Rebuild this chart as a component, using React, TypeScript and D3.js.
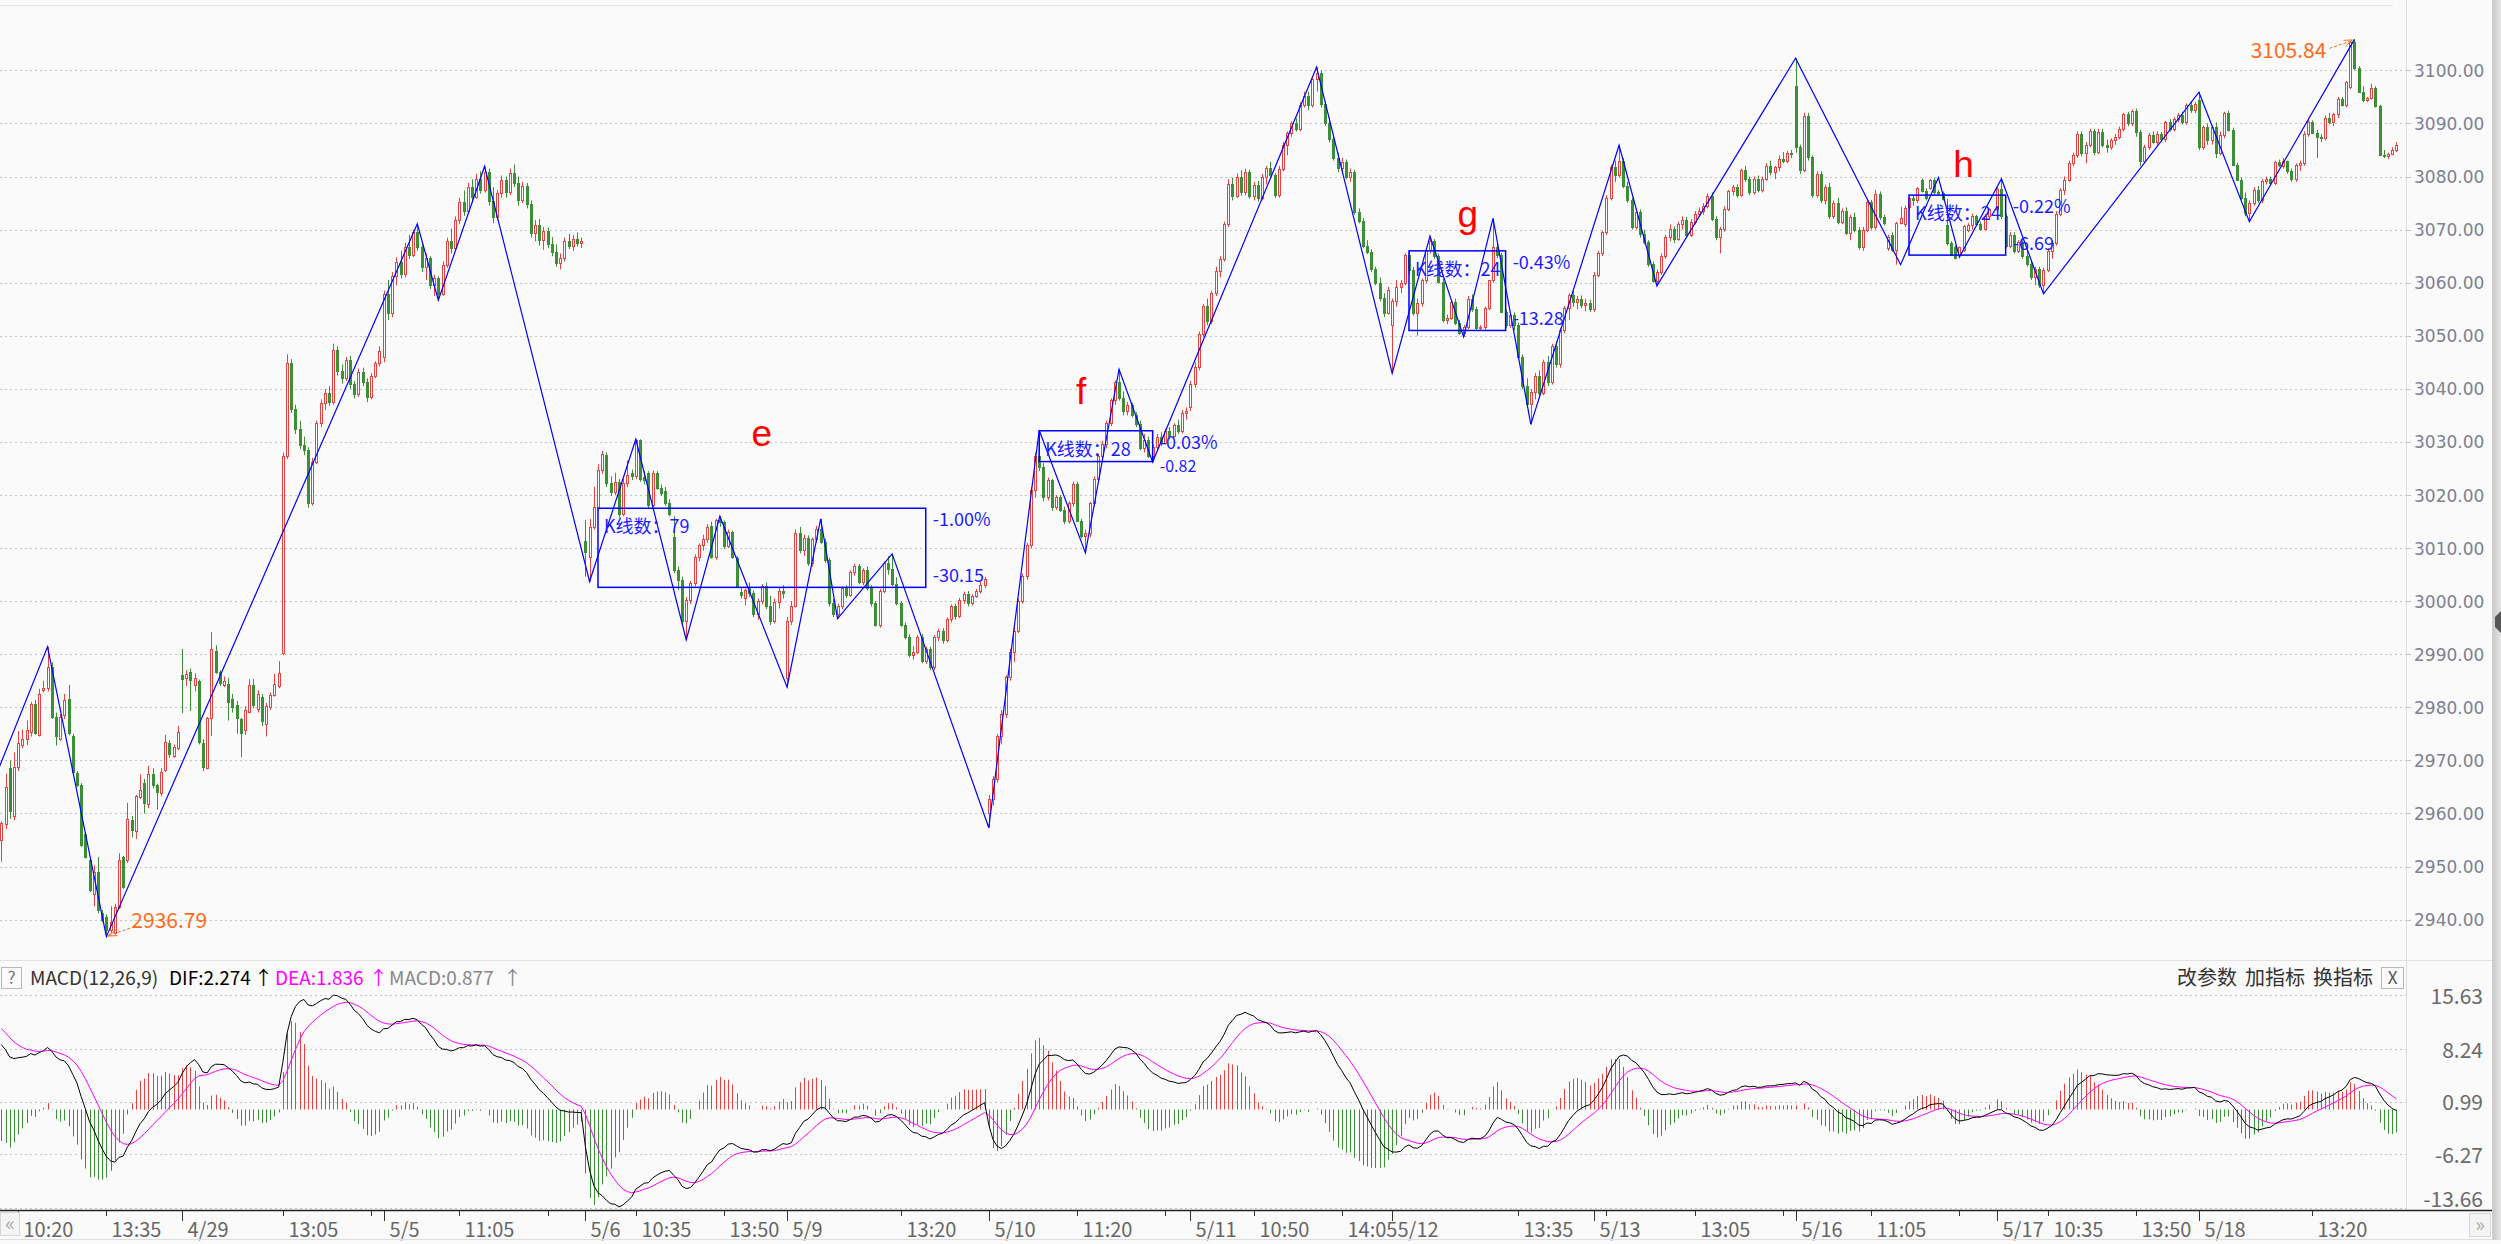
import React, { useMemo } from 'react';
import * as d3 from 'd3';

// ---------------- DATA ----------------
const dayLabels = ['4/28', '4/29', '5/5', '5/6', '5/9', '5/10', '5/11', '5/12', '5/13', '5/16', '5/17', '5/18'];
const BARS_PER_DAY = 48;
const FIRST_BAR = 5; // first visible 5-min bar of 4/28

// 5-minute bars, flat [open, high, low, close, ...] per day
const d0428 = [
  2955.0, 2958.5, 2950.9, 2958.2, 2958.1, 2967.5, 2957.0, 2965.0, 2968.5, 2970.0, 2959.0, 2960.5, 2959.5, 2971.5, 2958.7, 2968.8,
  2968.8, 2975.5, 2968.0, 2973.2, 2972.9, 2975.8, 2972.3, 2974.1, 2974.1, 2977.5, 2972.9, 2975.7, 2975.4, 2981.0, 2974.5, 2980.6,
  2980.6, 2981.4, 2974.8, 2975.1, 2974.8, 2983.5, 2974.5, 2982.6, 2983.2, 2985.0, 2982.8, 2983.7, 2983.6, 2991.4, 2983.0, 2987.6,
  2987.6, 2988.5, 2977.8, 2978.2, 2978.2, 2979.0, 2972.8, 2974.5, 2974.0, 2978.7, 2973.7, 2978.2, 2978.5, 2982.5, 2977.8, 2981.4,
  2981.6, 2984.2, 2974.7, 2975.1, 2974.6, 2975.0, 2967.5, 2967.9, 2967.7, 2968.0, 2965.0, 2965.3, 2965.3, 2965.7, 2953.7, 2954.0,
  2956.2, 2956.5, 2951.5, 2951.8, 2951.2, 2951.5, 2945.2, 2945.6, 2944.9, 2950.2, 2942.5, 2949.0, 2949.0, 2951.8, 2941.2, 2941.8,
  2941.2, 2941.8, 2939.5, 2939.9, 2940.5, 2941.0, 2936.79, 2938.0, 2938.0, 2942.5, 2937.5, 2939.6, 2937.4, 2943.0, 2937.2, 2942.4,
  2942.4, 2952.5, 2942.0, 2951.3, 2951.8, 2952.0, 2945.8, 2946.2, 2951.3, 2962.0, 2950.7, 2958.9, 2958.8, 2959.5, 2955.5, 2956.9,
  2956.6, 2963.5, 2955.2, 2963.3, 2963.1, 2967.4, 2962.7, 2964.5, 2965.7, 2966.5, 2960.0, 2961.9, 2961.8, 2969.0, 2961.0, 2967.5,
  2967.4, 2968.5, 2964.7, 2965.3, 2965.3, 2965.6, 2960.7, 2964.1, 2963.8, 2968.5, 2963.2, 2967.8, 2968.2, 2974.8, 2967.8, 2973.5,
  2973.3, 2973.8, 2970.5, 2971.2, 2970.8, 2973.0, 2970.5, 2972.6, 2972.3, 2976.5, 2971.9, 2975.4,
];
const d0429 = [
  2986.1, 2991.0, 2978.9, 2985.4, 2985.6, 2987.0, 2984.0, 2986.3, 2986.7, 2987.3, 2979.3, 2985.1, 2984.2, 2986.4, 2983.0, 2985.6,
  2984.9, 2985.2, 2973.0, 2973.5, 2973.3, 2974.0, 2968.0, 2968.8, 2968.5, 2978.2, 2968.3, 2977.9, 2977.9, 2994.2, 2974.6, 2990.9,
  2990.6, 2991.7, 2986.3, 2986.7, 2986.7, 2987.0, 2984.0, 2984.5, 2984.2, 2985.8, 2983.8, 2984.9, 2984.4, 2985.5, 2977.5, 2981.0,
  2981.5, 2982.5, 2979.0, 2980.0, 2980.4, 2981.2, 2975.0, 2977.9, 2977.8, 2978.0, 2970.6, 2975.1, 2975.7, 2980.2, 2974.8, 2979.5,
  2979.2, 2985.3, 2979.0, 2984.2, 2984.2, 2985.3, 2979.8, 2980.4, 2979.6, 2983.2, 2979.0, 2982.6, 2982.0, 2982.5, 2976.5, 2977.5,
  2976.8, 2980.8, 2974.5, 2980.2, 2980.0, 2982.8, 2979.5, 2982.3, 2982.3, 2986.3, 2982.0, 2984.4, 2984.0, 2988.7, 2983.6, 2986.4,
  2990.3, 3028.0, 2989.8, 3027.3, 3027.3, 3046.5, 3026.8, 3044.8, 3044.8, 3045.6, 3035.5, 3036.2, 3036.2, 3037.0, 3031.5, 3032.4,
  3032.4, 3034.0, 3028.6, 3029.5, 3029.5, 3031.0, 3027.5, 3028.5, 3028.5, 3029.0, 3017.6, 3018.4, 3018.4, 3027.0, 3018.0, 3026.2,
  3026.2, 3034.0, 3025.8, 3033.5, 3033.5, 3038.0, 3032.8, 3037.4, 3037.4, 3040.0, 3036.0, 3039.2, 3039.2, 3040.5, 3036.8, 3037.6,
  3037.6, 3048.5, 3037.0, 3047.3, 3047.3, 3048.0, 3042.5, 3043.4, 3043.4, 3044.6, 3041.0, 3042.1, 3042.1, 3046.0, 3041.5, 3045.4,
  3045.4, 3046.2, 3040.0, 3040.9, 3040.9, 3041.5, 3038.2, 3039.0, 3039.0, 3043.8, 3038.5, 3043.2, 3043.2, 3044.0, 3040.5, 3041.3,
  3041.3, 3042.0, 3037.5, 3038.4, 3038.4, 3043.0, 3038.0, 3042.5, 3042.5, 3045.2, 3042.0, 3044.8, 3044.8, 3048.0, 3044.2, 3047.1,
];
const d0505 = [
  3046.0, 3058.5, 3045.0, 3057.8, 3057.8, 3060.5, 3053.0, 3054.2, 3054.2, 3062.0, 3053.5, 3061.2, 3061.2, 3064.8, 3059.5, 3063.9,
  3063.9, 3066.0, 3060.8, 3061.7, 3061.7, 3067.5, 3061.0, 3066.8, 3066.8, 3069.0, 3064.5, 3065.3, 3065.3, 3070.0, 3064.8, 3069.5,
  3069.5, 3071.1, 3066.0, 3066.8, 3066.8, 3067.5, 3062.0, 3063.0, 3063.0, 3065.5, 3060.5, 3064.6, 3064.6, 3065.0, 3058.8, 3059.6,
  3059.6, 3061.5, 3057.5, 3060.8, 3060.8, 3061.2, 3056.7, 3057.9, 3057.9, 3064.0, 3057.5, 3063.4, 3063.4, 3068.5, 3062.8, 3067.9,
  3067.9, 3070.2, 3065.5, 3066.6, 3066.6, 3072.5, 3066.0, 3071.8, 3071.8, 3076.0, 3071.0, 3075.2, 3075.2, 3077.4, 3072.6, 3073.5,
  3073.5, 3078.8, 3073.0, 3078.1, 3078.1, 3079.5, 3075.0, 3076.2, 3076.2, 3080.5, 3075.8, 3079.6, 3079.6, 3081.0, 3076.8, 3077.4,
  3077.4, 3081.9, 3077.0, 3080.8, 3080.8, 3081.5, 3074.5, 3075.3, 3075.3, 3078.0, 3071.2, 3072.4, 3072.4, 3077.5, 3071.8, 3076.9,
  3076.9, 3080.2, 3076.0, 3079.4, 3079.4, 3080.0, 3076.0, 3077.1, 3077.1, 3081.5, 3076.5, 3080.6, 3080.6, 3082.3, 3078.0, 3078.8,
  3078.8, 3080.0, 3074.5, 3075.6, 3075.6, 3079.0, 3075.0, 3078.3, 3078.3, 3078.8, 3074.0, 3074.9, 3074.9, 3075.5, 3068.5, 3069.4,
  3069.4, 3071.8, 3067.8, 3070.9, 3070.9, 3072.0, 3067.0, 3068.1, 3068.1, 3070.5, 3066.2, 3069.8, 3069.8, 3070.4, 3066.5, 3067.3,
  3067.3, 3068.6, 3065.0, 3065.8, 3065.8, 3067.2, 3063.0, 3063.8, 3063.8, 3065.5, 3062.5, 3064.6, 3064.6, 3068.5, 3064.0, 3067.9,
  3067.9, 3069.2, 3066.3, 3066.9, 3066.9, 3069.0, 3066.0, 3068.3, 3068.3, 3069.5, 3066.8, 3067.4, 3067.4, 3068.5, 3066.5, 3067.8,
];
const d0506 = [
  3011.3, 3015.3, 3004.6, 3009.3, 3008.4, 3015.5, 3003.7, 3014.0, 3014.0, 3021.5, 3013.5, 3017.8, 3017.8, 3025.8, 3017.0, 3024.8,
  3024.7, 3028.3, 3024.0, 3027.7, 3027.5, 3028.0, 3021.5, 3022.2, 3022.2, 3023.5, 3019.8, 3020.6, 3020.6, 3024.2, 3020.0, 3022.5,
  3022.5, 3023.0, 3015.8, 3016.5, 3016.5, 3023.0, 3016.0, 3022.2, 3022.2, 3026.5, 3021.5, 3023.8, 3024.1, 3024.8, 3022.8, 3023.6,
  3023.5, 3030.55, 3023.0, 3030.4, 3030.4, 3030.5, 3022.5, 3023.1, 3023.4, 3024.5, 3022.0, 3022.8, 3024.1, 3024.5, 3017.5, 3018.1,
  3018.1, 3024.6, 3017.6, 3024.1, 3024.1, 3024.5, 3021.0, 3021.3, 3021.3, 3022.0, 3019.8, 3020.3, 3020.8, 3021.5, 3018.0, 3018.4,
  3018.4, 3019.2, 3016.0, 3016.5, 3012.0, 3016.0, 3005.3, 3005.9, 3005.9, 3006.5, 3002.1, 3004.0, 3004.0, 3004.6, 2995.5, 2996.3,
  2996.3, 3000.8, 2992.7, 3000.2, 3000.2, 3003.8, 2999.5, 3003.4, 3003.4, 3008.8, 3002.8, 3008.4, 3008.4, 3010.9, 3007.5, 3010.6,
  3010.6, 3012.5, 3009.5, 3011.8, 3011.8, 3014.5, 3011.0, 3014.0, 3014.2, 3015.0, 3008.0, 3008.4, 3008.4, 3015.5, 3007.8, 3015.3,
  3015.3, 3016.0, 3014.0, 3014.9, 3014.9, 3015.2, 3009.8, 3010.3, 3010.3, 3013.5, 3010.0, 3013.1, 3013.1, 3013.3, 3008.0, 3008.4,
  3008.1, 3008.5, 3002.5, 3002.7, 3001.8, 3002.5, 3000.5, 3001.2, 3000.5, 3002.4, 2999.2, 3002.1, 3002.7, 3003.5, 3000.8, 3001.5,
  3001.5, 3002.0, 2997.0, 2997.6, 2997.6, 3000.5, 2996.5, 3000.0, 3000.0, 3003.2, 2999.4, 3002.8, 3002.8, 3003.5, 2998.5, 2999.1,
  2999.1, 3001.0, 2995.5, 2996.3, 2996.3, 3000.5, 2995.8, 2999.8, 2999.8, 3002.5, 2998.6, 3001.9, 3001.9, 3003.0, 3000.5, 3001.6,
];
const d0509 = [
  2985.5, 2997.0, 2983.8, 2996.2, 2996.2, 3000.0, 2995.5, 2999.1, 2999.1, 3013.5, 2998.8, 3012.9, 3012.9, 3014.0, 3009.0, 3009.6,
  3009.6, 3012.5, 3008.5, 3011.9, 3011.9, 3012.4, 3006.6, 3007.1, 3007.1, 3012.0, 3006.5, 3011.7, 3011.7, 3014.2, 3011.0, 3013.5,
  3013.5, 3015.5, 3010.8, 3011.2, 3011.2, 3011.8, 3007.2, 3007.7, 3007.7, 3008.2, 2999.0, 2999.6, 2999.6, 3000.4, 2997.0, 2997.5,
  2997.5, 2999.5, 2996.7, 2999.1, 2999.1, 3002.8, 2998.5, 3002.5, 3002.5, 3003.0, 3000.6, 3001.2, 3001.2, 3005.8, 3000.8, 3005.4,
  3005.4, 3007.0, 3004.8, 3006.6, 3006.6, 3007.0, 3003.2, 3003.7, 3003.7, 3006.2, 3003.0, 3005.8, 3005.8, 3006.5, 3002.0, 3002.5,
  3002.5, 3003.0, 2999.0, 2999.6, 2999.6, 3000.0, 2995.2, 2995.6, 2995.6, 3002.3, 2995.0, 3001.9, 3001.9, 3007.5, 3001.5, 3007.1,
  3007.1, 3008.5, 3005.0, 3006.0, 3006.0, 3008.9, 3002.8, 3003.3, 3003.3, 3004.5, 2999.2, 2999.6, 2999.6, 3000.0, 2995.2, 2995.6,
  2995.6, 2996.0, 2992.8, 2993.3, 2993.3, 2993.8, 2989.4, 2989.8, 2989.8, 2991.5, 2989.0, 2990.4, 2990.4, 2993.6, 2990.0, 2993.3,
  2993.3, 2993.8, 2988.3, 2988.7, 2988.7, 2991.4, 2988.2, 2991.0, 2991.0, 2991.4, 2987.0, 2987.5, 2987.5, 2993.6, 2987.0, 2993.3,
  2993.3, 2994.8, 2992.5, 2994.4, 2994.4, 2994.9, 2992.0, 2992.6, 2992.6, 2996.9, 2992.2, 2996.7, 2996.7, 2999.4, 2996.0, 2999.1,
  2999.1, 2999.5, 2996.5, 2997.2, 2997.2, 3000.6, 2996.8, 3000.2, 3000.2, 3001.8, 2999.5, 3001.4, 3001.4, 3001.9, 2999.0, 2999.6,
  2999.6, 3001.3, 2999.2, 3001.0, 3001.0, 3002.3, 3000.6, 3001.9, 3001.9, 3003.6, 3001.4, 3003.1, 3003.1, 3004.6, 3002.5, 3004.1,
];
const d0510 = [
  2960.0, 2963.5, 2957.3, 2962.8, 2962.8, 2967.0, 2961.5, 2966.5, 2966.5, 2975.0, 2965.8, 2974.5, 2974.5, 2979.5, 2973.0, 2978.8,
  2978.8, 2986.0, 2978.0, 2985.7, 2985.7, 2991.0, 2985.0, 2990.5, 2990.5, 2995.0, 2988.5, 2994.4, 2994.4, 3000.5, 2994.0, 3000.1,
  3000.1, 3005.2, 2999.5, 3004.8, 3004.8, 3011.0, 3004.0, 3010.5, 3010.5, 3021.5, 3010.0, 3020.9, 3020.9, 3028.0, 3019.5, 3027.3,
  3027.3, 3032.2, 3024.5, 3025.2, 3025.2, 3026.0, 3018.8, 3019.6, 3019.6, 3023.3, 3019.0, 3022.8, 3022.8, 3023.0, 3017.0, 3017.7,
  3017.7, 3020.0, 3017.2, 3019.6, 3019.6, 3020.0, 3016.8, 3017.2, 3017.2, 3017.8, 3014.5, 3015.1, 3015.1, 3018.8, 3014.6, 3018.4,
  3018.4, 3022.5, 3017.8, 3022.0, 3022.0, 3022.5, 3015.0, 3015.1, 3015.1, 3015.5, 3011.8, 3012.2, 3012.2, 3013.5, 3009.1, 3012.8,
  3012.8, 3018.7, 3012.0, 3018.4, 3018.4, 3023.5, 3017.8, 3023.0, 3023.0, 3027.6, 3022.5, 3027.3, 3027.3, 3030.2, 3026.5, 3029.6,
  3029.6, 3034.0, 3028.8, 3033.5, 3033.5, 3038.2, 3033.0, 3037.9, 3037.9, 3041.6, 3037.0, 3041.3, 3041.3, 3043.7, 3037.8, 3038.2,
  3038.2, 3039.5, 3035.0, 3035.8, 3035.8, 3037.5, 3035.0, 3037.0, 3037.0, 3037.4, 3034.6, 3035.1, 3035.1, 3035.6, 3032.8, 3033.3,
  3033.3, 3034.0, 3028.4, 3028.8, 3028.8, 3031.5, 3028.0, 3030.4, 3030.4, 3031.0, 3027.0, 3027.4, 3027.4, 3029.5, 3026.2, 3029.1,
  3029.1, 3031.5, 3028.6, 3031.0, 3031.0, 3031.8, 3029.2, 3029.8, 3029.8, 3032.5, 3029.5, 3032.1, 3032.1, 3032.8, 3030.5, 3031.2,
  3031.2, 3033.5, 3030.8, 3033.1, 3033.1, 3034.2, 3031.5, 3032.0, 3032.0, 3036.0, 3031.6, 3035.4, 3035.4, 3036.5, 3034.2, 3035.8,
];
const d0511 = [
  3036.5, 3041.5, 3035.8, 3041.0, 3041.0, 3045.0, 3040.2, 3044.2, 3044.2, 3050.8, 3043.5, 3050.4, 3050.4, 3056.0, 3049.8, 3055.6,
  3055.6, 3057.0, 3052.0, 3052.8, 3052.8, 3058.5, 3052.2, 3058.0, 3058.0, 3063.0, 3057.5, 3062.2, 3062.2, 3065.0, 3061.0, 3064.5,
  3064.5, 3071.5, 3064.0, 3071.0, 3071.0, 3079.5, 3070.5, 3078.6, 3078.6, 3079.8, 3075.5, 3076.4, 3076.4, 3080.6, 3076.0, 3080.0,
  3080.0, 3081.2, 3076.4, 3077.0, 3077.0, 3081.5, 3076.5, 3080.9, 3080.9, 3081.3, 3075.8, 3076.4, 3076.4, 3079.0, 3075.5, 3078.5,
  3078.5, 3079.2, 3075.3, 3075.9, 3075.9, 3080.5, 3075.5, 3080.0, 3080.0, 3082.0, 3078.5, 3081.6, 3081.6, 3082.8, 3079.6, 3080.2,
  3080.2, 3080.6, 3076.0, 3076.5, 3076.5, 3082.0, 3076.0, 3081.4, 3081.4, 3086.5, 3081.0, 3086.0, 3086.0, 3088.5, 3084.0, 3088.2,
  3088.2, 3090.4, 3087.5, 3090.0, 3090.0, 3091.0, 3088.5, 3089.0, 3089.0, 3094.0, 3088.5, 3093.5, 3093.5, 3096.0, 3093.0, 3095.2,
  3095.2, 3096.0, 3092.5, 3093.4, 3093.4, 3098.8, 3093.0, 3098.4, 3098.4, 3100.6, 3096.0, 3099.5, 3099.5, 3100.0, 3093.0, 3093.6,
  3093.6, 3094.2, 3089.5, 3090.0, 3090.0, 3091.2, 3086.5, 3087.0, 3087.0, 3088.0, 3083.0, 3083.5, 3083.5, 3084.5, 3080.8, 3081.6,
  3081.6, 3083.5, 3081.0, 3082.8, 3082.8, 3083.2, 3079.5, 3080.0, 3080.0, 3081.5, 3079.0, 3080.9, 3080.9, 3081.3, 3072.8, 3073.4,
  3073.4, 3074.0, 3071.2, 3071.7, 3071.7, 3072.2, 3066.5, 3067.0, 3067.0, 3068.0, 3065.4, 3065.8, 3065.8, 3066.3, 3062.0, 3062.5,
  3062.5, 3063.0, 3059.5, 3060.0, 3060.0, 3061.0, 3056.5, 3057.1, 3057.1, 3058.0, 3053.5, 3054.3, 3054.3, 3059.2, 3054.0, 3058.7,
];
const d0512 = [
  3052.0, 3057.0, 3042.9, 3056.5, 3056.5, 3060.5, 3055.5, 3059.2, 3059.2, 3060.5, 3058.0, 3060.0, 3060.0, 3065.5, 3059.5, 3065.2,
  3065.2, 3066.0, 3061.5, 3062.4, 3062.4, 3063.0, 3053.8, 3054.2, 3054.2, 3057.0, 3050.0, 3056.1, 3056.1, 3060.8, 3055.5, 3060.5,
  3060.5, 3066.5, 3060.0, 3066.2, 3066.2, 3068.8, 3065.5, 3067.8, 3067.8, 3068.2, 3064.5, 3065.0, 3065.0, 3065.5, 3059.8, 3060.2,
  3060.2, 3060.8, 3052.5, 3053.0, 3053.0, 3054.0, 3052.2, 3053.3, 3053.3, 3056.6, 3053.0, 3056.4, 3056.4, 3057.0, 3052.0, 3052.4,
  3052.4, 3053.0, 3050.2, 3050.6, 3050.6, 3052.0, 3049.8, 3051.6, 3051.6, 3057.5, 3051.2, 3057.0, 3057.0, 3057.8, 3054.5, 3055.0,
  3055.0, 3055.5, 3051.0, 3051.5, 3051.5, 3052.0, 3051.0, 3051.6, 3051.6, 3055.5, 3051.2, 3055.2, 3055.2, 3060.5, 3054.8, 3060.5,
  3060.5, 3072.1, 3060.0, 3066.8, 3066.8, 3067.5, 3064.6, 3065.2, 3065.2, 3065.6, 3054.5, 3054.5, 3054.5, 3055.0, 3051.5, 3052.0,
  3052.0, 3054.0, 3051.5, 3053.9, 3053.9, 3054.4, 3051.0, 3052.0, 3052.0, 3052.5, 3045.5, 3046.0, 3046.0, 3046.5, 3040.0, 3040.6,
  3040.6, 3042.0, 3036.5, 3037.2, 3037.2, 3040.0, 3033.3, 3039.5, 3039.5, 3043.0, 3038.0, 3042.4, 3042.4, 3043.5, 3038.5, 3039.2,
  3039.2, 3045.5, 3038.8, 3045.0, 3045.0, 3046.2, 3040.5, 3041.2, 3041.2, 3048.5, 3040.8, 3048.0, 3048.0, 3049.0, 3044.0, 3044.6,
  3044.6, 3051.5, 3044.0, 3051.0, 3051.0, 3055.6, 3050.5, 3055.2, 3055.2, 3058.0, 3053.0, 3057.6, 3057.6, 3058.5, 3055.5, 3056.3,
  3056.3, 3057.5, 3055.0, 3057.0, 3057.0, 3057.6, 3055.2, 3055.8, 3055.8, 3057.0, 3054.6, 3056.2, 3056.2, 3056.8, 3054.5, 3055.0,
];
const d0513 = [
  3055.0, 3062.0, 3054.5, 3061.5, 3061.5, 3066.0, 3061.0, 3065.6, 3065.6, 3069.8, 3065.0, 3069.5, 3069.5, 3076.5, 3069.0, 3076.0,
  3076.0, 3082.2, 3075.5, 3081.8, 3081.8, 3083.0, 3079.0, 3080.2, 3080.2, 3085.9, 3079.8, 3083.0, 3083.0, 3083.5, 3077.8, 3078.3,
  3078.3, 3079.0, 3075.0, 3075.6, 3075.6, 3076.0, 3070.0, 3070.5, 3070.5, 3074.0, 3070.0, 3073.4, 3073.4, 3073.8, 3068.5, 3069.1,
  3069.1, 3070.0, 3067.2, 3067.7, 3067.7, 3068.0, 3063.0, 3063.6, 3063.6, 3064.0, 3060.0, 3060.4, 3060.4, 3062.5, 3059.4, 3062.0,
  3062.0, 3065.5, 3061.5, 3065.0, 3065.0, 3069.0, 3064.5, 3068.6, 3068.6, 3071.0, 3067.8, 3070.2, 3070.2, 3070.6, 3067.5, 3068.3,
  3068.3, 3071.5, 3067.9, 3071.0, 3071.0, 3072.5, 3070.0, 3071.9, 3071.9, 3072.4, 3068.5, 3069.0, 3069.0, 3072.0, 3068.6, 3071.5,
  3071.5, 3073.5, 3071.0, 3073.0, 3073.0, 3074.2, 3072.6, 3073.5, 3073.5, 3075.0, 3072.8, 3074.4, 3074.4, 3076.8, 3074.0, 3076.3,
  3076.3, 3077.0, 3071.6, 3072.0, 3072.0, 3072.5, 3068.0, 3068.6, 3068.6, 3070.5, 3065.5, 3070.1, 3070.1, 3074.4, 3069.6, 3073.9,
  3073.9, 3077.5, 3073.5, 3077.2, 3077.2, 3078.4, 3076.4, 3078.0, 3078.0, 3078.5, 3076.0, 3076.6, 3076.6, 3081.5, 3076.2, 3081.2,
  3081.2, 3082.0, 3079.0, 3079.6, 3079.6, 3080.0, 3076.5, 3077.0, 3077.0, 3080.0, 3076.6, 3079.6, 3079.6, 3080.2, 3077.0, 3077.5,
  3077.5, 3080.0, 3077.0, 3079.6, 3079.6, 3082.5, 3079.2, 3082.0, 3082.0, 3083.0, 3080.2, 3080.8, 3080.8, 3082.0, 3079.5, 3081.8,
  3081.8, 3084.0, 3081.0, 3083.4, 3083.4, 3084.6, 3082.5, 3083.0, 3083.0, 3084.8, 3082.5, 3084.4, 3084.4, 3085.0, 3083.5, 3084.3,
];
const d0516 = [
  3097.0, 3102.3, 3084.5, 3085.5, 3085.5, 3086.0, 3080.5, 3081.2, 3081.2, 3092.0, 3080.8, 3091.5, 3091.5, 3092.0, 3083.0, 3083.6,
  3083.6, 3084.0, 3076.0, 3076.5, 3076.5, 3081.0, 3076.0, 3080.5, 3080.5, 3081.0, 3075.0, 3075.5, 3075.5, 3078.5, 3074.8, 3078.0,
  3078.0, 3078.8, 3072.0, 3072.6, 3072.6, 3075.5, 3072.0, 3075.0, 3075.0, 3076.0, 3071.0, 3071.5, 3071.5, 3074.0, 3071.0, 3073.6,
  3073.6, 3074.2, 3069.0, 3069.4, 3069.4, 3072.8, 3068.0, 3072.3, 3072.3, 3073.2, 3069.5, 3070.0, 3070.0, 3070.5, 3066.2, 3066.8,
  3066.8, 3070.5, 3066.0, 3070.0, 3070.0, 3075.8, 3069.5, 3075.2, 3075.2, 3075.6, 3070.0, 3070.5, 3070.5, 3077.5, 3070.0, 3076.8,
  3076.8, 3077.2, 3071.8, 3072.4, 3072.4, 3072.8, 3070.8, 3071.2, 3066.5, 3069.0, 3066.0, 3068.7, 3069.0, 3069.5, 3065.8, 3066.2,
  3066.2, 3071.5, 3063.4, 3071.2, 3071.2, 3074.3, 3071.0, 3072.1, 3071.0, 3074.5, 3070.5, 3074.0, 3074.3, 3076.0, 3073.8, 3075.9,
  3075.9, 3076.5, 3074.5, 3075.5, 3075.5, 3078.0, 3075.0, 3077.8, 3079.3, 3079.6, 3077.0, 3077.2, 3077.2, 3077.8, 3075.5, 3076.0,
  3077.8, 3079.5, 3077.5, 3079.3, 3079.3, 3079.8, 3076.5, 3077.0, 3077.0, 3077.5, 3076.5, 3076.9, 3076.9, 3077.2, 3075.5, 3075.8,
  3070.9, 3075.8, 3067.0, 3067.4, 3067.4, 3067.8, 3065.0, 3065.2, 3066.8, 3067.0, 3064.4, 3064.6, 3065.2, 3066.8, 3064.8, 3066.8,
  3066.2, 3070.9, 3065.8, 3070.6, 3070.0, 3071.2, 3069.5, 3070.9, 3070.9, 3073.0, 3070.0, 3072.5, 3072.5, 3072.8, 3070.8, 3071.0,
  3071.0, 3071.5, 3069.8, 3070.2, 3070.2, 3073.0, 3069.8, 3072.6, 3072.6, 3074.0, 3072.0, 3073.8,
];
const d0517 = [
  3073.8, 3078.0, 3073.5, 3077.6, 3077.6, 3079.6, 3072.0, 3072.5, 3072.5, 3073.0, 3066.5, 3067.0, 3067.0, 3069.5, 3066.5, 3069.0,
  3069.0, 3069.5, 3065.5, 3066.0, 3066.0, 3068.0, 3065.6, 3067.7, 3067.7, 3068.0, 3064.5, 3065.0, 3065.0, 3066.5, 3063.0, 3063.5,
  3063.5, 3064.0, 3060.5, 3061.0, 3061.0, 3063.0, 3059.5, 3062.5, 3062.5, 3063.0, 3059.0, 3059.5, 3059.5, 3062.8, 3057.9, 3062.3,
  3062.3, 3066.5, 3062.0, 3066.0, 3066.0, 3068.0, 3064.5, 3067.5, 3067.5, 3073.5, 3067.0, 3073.0, 3073.0, 3077.8, 3072.5, 3077.4,
  3077.4, 3080.0, 3076.5, 3079.4, 3079.4, 3083.0, 3079.0, 3082.6, 3082.6, 3084.5, 3082.0, 3084.0, 3084.0, 3088.5, 3083.5, 3088.0,
  3088.0, 3088.5, 3083.8, 3084.4, 3084.4, 3086.5, 3082.5, 3086.0, 3086.0, 3089.0, 3085.5, 3088.6, 3088.6, 3089.0, 3084.0, 3084.6,
  3084.6, 3089.0, 3084.2, 3088.4, 3088.4, 3089.0, 3085.5, 3086.0, 3086.0, 3087.0, 3084.5, 3085.6, 3085.6, 3087.2, 3085.0, 3086.9,
  3086.9, 3088.0, 3086.0, 3087.5, 3087.5, 3089.4, 3087.0, 3089.0, 3089.0, 3092.0, 3088.5, 3091.8, 3091.8, 3092.2, 3089.5, 3090.0,
  3090.0, 3092.6, 3089.5, 3092.4, 3092.4, 3092.8, 3087.5, 3088.3, 3088.3, 3088.8, 3082.0, 3082.9, 3082.9, 3086.0, 3082.5, 3085.6,
  3085.6, 3088.2, 3085.0, 3087.8, 3087.8, 3088.5, 3086.2, 3086.6, 3086.6, 3088.5, 3086.0, 3088.0, 3088.0, 3088.4, 3086.5, 3087.0,
  3087.0, 3090.5, 3086.5, 3090.2, 3090.2, 3090.8, 3088.5, 3089.0, 3089.0, 3091.2, 3088.5, 3090.9, 3090.9, 3092.0, 3090.2, 3091.6,
  3091.6, 3092.2, 3089.8, 3090.2, 3090.2, 3093.8, 3089.8, 3093.5, 3093.5, 3094.2, 3092.0, 3092.6, 3092.6, 3094.0, 3092.0, 3093.7,
];
const d0518 = [
  3094.5, 3095.9, 3085.0, 3085.6, 3085.6, 3089.6, 3085.0, 3089.4, 3089.4, 3090.0, 3086.0, 3086.8, 3086.8, 3089.6, 3086.0, 3089.4,
  3089.4, 3090.2, 3083.5, 3084.4, 3084.4, 3088.5, 3084.0, 3087.8, 3087.8, 3092.2, 3087.2, 3091.9, 3091.9, 3092.4, 3088.5, 3088.8,
  3088.8, 3089.2, 3082.0, 3082.2, 3082.2, 3082.6, 3079.2, 3079.4, 3079.4, 3079.8, 3075.5, 3076.0, 3076.0, 3077.0, 3072.5, 3073.2,
  3073.2, 3075.5, 3071.5, 3075.0, 3075.0, 3078.0, 3074.5, 3077.5, 3077.5, 3078.2, 3075.0, 3075.5, 3075.5, 3079.5, 3075.0, 3079.2,
  3079.2, 3080.0, 3078.5, 3079.6, 3079.6, 3080.0, 3078.5, 3078.8, 3078.8, 3083.0, 3078.4, 3082.8, 3082.8, 3083.2, 3081.8, 3082.2,
  3081.9, 3083.5, 3081.5, 3082.9, 3082.9, 3083.0, 3080.5, 3081.0, 3081.0, 3081.5, 3079.0, 3079.5, 3079.5, 3082.5, 3079.0, 3082.2,
  3082.2, 3083.0, 3081.0, 3082.5, 3082.5, 3088.5, 3082.0, 3088.1, 3088.1, 3091.0, 3087.5, 3090.3, 3090.3, 3090.6, 3088.0, 3088.2,
  3088.2, 3088.8, 3083.5, 3087.5, 3087.5, 3088.0, 3086.5, 3087.2, 3087.2, 3091.5, 3086.8, 3091.0, 3091.0, 3092.0, 3089.8, 3090.2,
  3090.2, 3092.0, 3089.5, 3091.7, 3091.7, 3095.0, 3091.0, 3094.7, 3094.7, 3095.0, 3093.2, 3093.5, 3093.5, 3098.0, 3093.0, 3097.9,
  3096.9, 3105.5, 3096.5, 3105.4, 3105.4, 3105.84, 3100.0, 3100.4, 3100.4, 3100.8, 3096.0, 3096.0, 3096.0, 3097.0, 3094.0, 3094.4,
  3094.4, 3095.0, 3094.0, 3094.8, 3094.8, 3097.5, 3094.5, 3096.6, 3096.6, 3097.0, 3093.0, 3093.2, 3093.2, 3093.5, 3084.0, 3084.1,
  3084.1, 3085.0, 3083.5, 3083.8, 3083.8, 3084.5, 3083.3, 3084.3, 3084.3, 3085.5, 3084.0, 3085.0, 3085.0, 3086.5, 3084.6, 3086.0,
];
const days = [d0428, d0429, d0505, d0506, d0509, d0510, d0511, d0512, d0513, d0516, d0517, d0518];

// zigzag pivots [bar index, price]
const zigzag: [number, number][] = [
  [0, 2959.8], [16, 2991.4], [30, 2936.79], [104, 3071.1], [109, 3056.7], [120, 3081.9], [145, 3003.7], [156, 3030.5],
  [168, 2992.7], [176, 3016.0], [192, 2983.8], [200, 3015.5], [204, 2996.7], [217, 3008.9], [240, 2957.3], [252, 3032.2],
  [263, 3009.1], [271, 3043.7], [279, 3026.2], [318, 3100.6], [336, 3042.9], [345, 3068.8], [353, 3049.8], [360, 3072.1],
  [369, 3033.3], [390, 3085.9], [399, 3059.4], [432, 3102.3], [457, 3063.4], [466, 3079.8], [471, 3064.8], [481, 3079.6],
  [491, 3057.9], [528, 3095.9], [540, 3071.5], [565, 3105.84],
];

// consolidation boxes
const boxes = [
  { from: 147, to: 225, top: 3017.5, bottom: 3002.6, count: 'K线数：79', pct: '-1.00%', diff: '-30.15', letter: 'e', letterBar: 186, letterPrice: 3029.2 },
  { from: 252, to: 279, top: 3032.1, bottom: 3026.3, count: 'K线数：28', pct: '-0.03%', diff: '-0.82', letter: 'f', letterBar: 262, letterPrice: 3037.2 },
  { from: 340, to: 363, top: 3066.0, bottom: 3051.0, count: 'K线数：24', pct: '-0.43%', diff: '-13.28', letter: 'g', letterBar: 354, letterPrice: 3070.5 },
  { from: 459, to: 482, top: 3076.5, bottom: 3065.2, count: 'K线数：24', pct: '-0.22%', diff: '-6.69', letter: 'h', letterBar: 472, letterPrice: 3079.9 },
];

const extremes = [
  { bar: 30, price: 2936.79, label: '2936.79', side: 'low' },
  { bar: 565, price: 3105.84, label: '3105.84', side: 'high' },
];

const priceTicks = d3.range(2940, 3101, 10);
const macdTicks = [15.63, 8.24, 0.99, -6.27, -13.66];
const timeTicks: [number, string][] = [
  [9, '10:20'], [30, '13:35'], [72, '13:05'], [93, ''], [114, '11:05'], [135, ''], [156, '10:35'], [177, '13:50'],
  [219, '13:20'], [261, '11:20'], [282, ''], [303, '10:50'], [324, '14:05'], [366, '13:35'], [387, ''], [408, '13:05'],
  [429, ''], [450, '11:05'], [471, ''], [492, '10:35'], [513, '13:50'], [555, '13:20'],
];

// MACD(12,26,9) seeds for the EMAs before the first visible bar
const EMA_FAST_SEED = 2967.0;
const EMA_SLOW_SEED = 2956.7;
const DEA_SEED = 11.6;
const legendItems = [
  { text: 'MACD(12,26,9)', x: 30, color: '#333' },
  { text: 'DIF:2.274', x: 169, color: '#000' },
  { text: '↑', x: 254, color: '#000' },
  { text: 'DEA:1.836', x: 275, color: '#ff00ff' },
  { text: '↑', x: 369, color: '#ff00ff' },
  { text: 'MACD:0.877', x: 389, color: '#888' },
  { text: '↑', x: 503, color: '#888' },
];
const toolItems = [
  { text: '改参数', x: 2177 },
  { text: '加指标', x: 2245 },
  { text: '换指标', x: 2313 },
];

// ---------------- LAYOUT ----------------
const W = 2501, H = 1244;
const X_LEFT = -19.7, BAR_STEP = 4.202;
const PLOT_RIGHT = 2406;
const BG = '#fafafa';
const RED = '#e8413f';
const GREEN = '#3b8f35';
const BLUE = '#0000ff';
const CJK = '"Noto Sans CJK SC", "Noto Sans", sans-serif';

export default function App() {
  const bars = useMemo(() => {
    const out: { g: number; o: number; h: number; l: number; c: number }[] = [];
    days.forEach((arr, d) => {
      const start = d === 0 ? FIRST_BAR : 0;
      for (let k = 0; k * 4 < arr.length; k++) {
        out.push({ g: d * BARS_PER_DAY + start + k, o: arr[4 * k], h: arr[4 * k + 1], l: arr[4 * k + 2], c: arr[4 * k + 3] });
      }
    });
    return out;
  }, []);

  const macd = useMemo(() => {
    let ef = EMA_FAST_SEED, es = EMA_SLOW_SEED, dea = DEA_SEED;
    return bars.map((b) => {
      ef = (2 * b.c + 11 * ef) / 13;
      es = (2 * b.c + 25 * es) / 27;
      const dif = ef - es;
      dea = (2 * dif + 8 * dea) / 10;
      return { g: b.g, dif, dea, hist: 2 * (dif - dea) };
    });
  }, [bars]);

  const total = dayLabels.length * BARS_PER_DAY;
  const x = d3.scaleLinear().domain([0, total]).range([X_LEFT, X_LEFT + total * BAR_STEP]);
  const y = d3.scaleLinear().domain([2940, 3100]).range([919.6, 70.4]);
  const ym = d3.scaleLinear().domain([-13.66, 15.63]).range([1208.2, 995.2]);

  const zz = d3.line<[number, number]>().x((d) => x(d[0])).y((d) => y(d[1]))(zigzag) || '';
  const difPath = d3.line<any>().x((d) => x(d.g)).y((d) => ym(d.dif))(macd) || '';
  const deaPath = d3.line<any>().x((d) => x(d.g)).y((d) => ym(d.dea))(macd) || '';
  const y0 = Math.round(ym(0)) + 0.5;

  const dayTicks = dayLabels.map((lab, d) => ({ g: d * BARS_PER_DAY, label: lab })).filter((t) => t.g > 0);

  return (
    <svg width={W} height={H} style={{ position: 'absolute', left: 0, top: 0, display: 'block', background: BG }}>
      <defs>
        <clipPath id="mainClip"><rect x={0} y={6} width={PLOT_RIGHT} height={950} /></clipPath>
        <clipPath id="macdClip"><rect x={0} y={990} width={PLOT_RIGHT} height={220} /></clipPath>
        <linearGradient id="scroll" x1="0" x2="1" y1="0" y2="0">
          <stop offset="0" stopColor="#c9c9c9" />
          <stop offset="1" stopColor="#e6e6e6" />
        </linearGradient>
      </defs>
      <rect x={0} y={0} width={W} height={H} fill={BG} />
      <line x1={0} x2={2393} y1={5.5} y2={5.5} stroke="#e4e4e4" />
      <line x1={PLOT_RIGHT + 0.5} x2={PLOT_RIGHT + 0.5} y1={0} y2={1210} stroke="#dcdcdc" />
      <line x1={0} x2={2493} y1={960.5} y2={960.5} stroke="#e0e0e0" />

      {/* price grid */}
      {priceTicks.map((p) => (
        <g key={p}>
          <line x1={0} x2={PLOT_RIGHT} y1={Math.round(y(p)) + 0.5} y2={Math.round(y(p)) + 0.5} stroke="#c4c4c4" strokeDasharray="2 3" />
          <line x1={PLOT_RIGHT + 1} x2={PLOT_RIGHT + 5} y1={Math.round(y(p)) + 0.5} y2={Math.round(y(p)) + 0.5} stroke="#c4c4c4" />
          <text x={2414} y={y(p) + 1.5} dominantBaseline="middle" fontFamily='"DejaVu Sans", sans-serif' fontSize={17} fill="#7d8190">
            {p.toFixed(2)}
          </text>
        </g>
      ))}

      {/* candles */}
      <g clipPath="url(#mainClip)">
        {bars.map((b) => {
          const xc = Math.round(x(b.g));
          const up = b.c >= b.o;
          const col = up ? RED : GREEN;
          const yt = Math.round(y(Math.max(b.o, b.c)));
          const yb = Math.round(y(Math.min(b.o, b.c)));
          const hgt = yb - yt;
          return (
            <g key={b.g}>
              <line x1={xc + 0.5} x2={xc + 0.5} y1={y(b.h)} y2={y(b.l)} stroke={col} strokeWidth={1} />
              {hgt < 1 ? (
                <line x1={xc - 1} x2={xc + 2} y1={yt + 0.5} y2={yt + 0.5} stroke={col} />
              ) : up ? (
                <rect x={xc - 0.5} y={yt + 0.5} width={2} height={hgt} fill={BG} stroke={col} strokeWidth={1} />
              ) : (
                <rect x={xc - 1} y={yt} width={3} height={hgt + 1} fill={col} />
              )}
            </g>
          );
        })}
        <path d={zz} fill="none" stroke={BLUE} strokeWidth={1.2} />
        {boxes.map((bx, i) => {
          const x1 = x(bx.from), x2 = x(bx.to);
          const yt = y(bx.top), yb = y(bx.bottom);
          const tight = yb - yt < 40;
          return (
            <g key={i}>
              <rect x={x1} y={yt} width={x2 - x1} height={yb - yt} fill="none" stroke={BLUE} strokeWidth={1.5} />
              <text x={x1 + 6} y={yt + 25} fontFamily={CJK} fontSize={18} fill="#1c1cff">{bx.count}</text>
              <text x={x2 + 7} y={tight ? yb + 10 : yb - 5} fontFamily={CJK} fontSize={tight ? 16 : 18} fill="#1c1cff">{bx.diff}</text>
              <text x={x2 + 7} y={yt + 18} fontFamily={CJK} fontSize={18} fill="#1c1cff">{bx.pct}</text>
              <text x={x(bx.letterBar)} y={y(bx.letterPrice)} textAnchor="middle" fontFamily='"Liberation Sans", Arial, sans-serif' fontSize={37} fill="#ff0000">{bx.letter}</text>
            </g>
          );
        })}
        {extremes.map((e) => {
          const px = x(e.bar), py = y(e.price);
          if (e.side === 'low') {
            return (
              <g key={e.label}>
                <line x1={px + 2} y1={py - 1} x2={px + 25} y2={py - 9} stroke="#ff6a1a" strokeDasharray="3 2" />
                <path d={`M${px + 10},${py - 7} L${px + 1},${py - 0.5} L${px + 11},${py - 1}`} fill="none" stroke="#ff6a1a" />
                <text x={px + 25} y={py - 9} fontFamily={CJK} fontSize={21} fill="#ff6a1a">{e.label}</text>
              </g>
            );
          }
          return (
            <g key={e.label}>
              <line x1={px - 25} y1={py + 9} x2={px - 2} y2={py + 1} stroke="#ff6a1a" strokeDasharray="3 2" />
              <path d={`M${px - 11},${py + 1} L${px - 2},${py + 0.5} L${px - 9},${py + 7}`} fill="none" stroke="#ff6a1a" />
              <text x={px - 28} y={py + 19} textAnchor="end" fontFamily={CJK} fontSize={21} fill="#ff6a1a">{e.label}</text>
            </g>
          );
        })}
      </g>

      {/* MACD panel header */}
      <rect x={1.5} y={967.5} width={20} height={21} fill="none" stroke="#b8b8b8" />
      <text x={11.5} y={984} textAnchor="middle" fontFamily={CJK} fontSize={17} fill="#777">?</text>
      {legendItems.map((it, i) => (
        <text key={i} x={it.x} y={984.5} fontFamily={CJK} fontSize={19} fill={it.color}>{it.text}</text>
      ))}
      {toolItems.map((it) => (
        <text key={it.text} x={it.x} y={984.5} fontFamily={CJK} fontSize={20} fill="#333">{it.text}</text>
      ))}
      <rect x={2381.5} y={967.5} width={22} height={21} fill="none" stroke="#b8b8b8" />
      <text x={2392.5} y={984} textAnchor="middle" fontFamily={CJK} fontSize={17} fill="#555">X</text>

      {macdTicks.map((v, i) => (
        <g key={v}>
          <line x1={0} x2={PLOT_RIGHT} y1={Math.round(ym(v)) + 0.5} y2={Math.round(ym(v)) + 0.5} stroke="#c4c4c4" strokeDasharray="2 3" />
          <text x={2483} y={i === macdTicks.length - 1 ? ym(v) - 7 : ym(v) + 3} textAnchor="end" dominantBaseline="middle" fontFamily={CJK} fontSize={21} fill="#6a6a6a">
            {v.toFixed(2)}
          </text>
        </g>
      ))}
      <g clipPath="url(#macdClip)">
        {macd.map((m) => {
          const xc = Math.round(x(m.g)) + 0.5;
          return <line key={m.g} x1={xc} x2={xc} y1={y0} y2={ym(m.hist)} stroke={m.hist >= 0 ? '#e8413f' : '#3b8f35'} strokeWidth={1} />;
        })}
        <path d={deaPath} fill="none" stroke="#ff00ff" strokeWidth={1} />
        <path d={difPath} fill="none" stroke="#000" strokeWidth={1} />
      </g>

      {/* time axis */}
      <line x1={0} x2={2493} y1={1210.5} y2={1210.5} stroke="#222" strokeWidth={1.5} />
      {timeTicks.map(([g, lab]) => {
        const xc = Math.round(x(g)) + 0.5;
        return (
          <g key={'t' + g}>
            <line x1={xc} x2={xc} y1={1211} y2={1216} stroke="#333" />
            {lab && <text x={xc + 5} y={1237} fontFamily={CJK} fontSize={20} fill="#666">{lab}</text>}
          </g>
        );
      })}
      {dayTicks.map((t) => {
        const xc = Math.round(x(t.g)) + 0.5;
        return (
          <g key={'d' + t.g}>
            <line x1={xc} x2={xc} y1={1211} y2={1221} stroke="#333" />
            <text x={xc + 5} y={1237} fontFamily={CJK} fontSize={20} fill="#666">{t.label}</text>
          </g>
        );
      })}
      <line x1={0} x2={2493} y1={1239.5} y2={1239.5} stroke="#dedede" />
      <rect x={0.5} y={1212.5} width={19} height={23} fill="#f4f4f4" stroke="#d6d6d6" />
      <text x={10} y={1231} textAnchor="middle" fontFamily={CJK} fontSize={20} fill="#aaa">«</text>
      <rect x={2469.5} y={1213.5} width={21} height={23} fill="#f4f4f4" stroke="#d6d6d6" />
      <text x={2480} y={1232} textAnchor="middle" fontFamily={CJK} fontSize={20} fill="#aaa">»</text>

      {/* right scroll strip */}
      <rect x={2493} y={0} width={8} height={1240} fill="url(#scroll)" />
      <line x1={2492.5} x2={2492.5} y1={0} y2={1240} stroke="#d0d0d0" />
      <path d="M2501,611 L2495,617 L2495,627 L2501,633 Z" fill="#555" />
    </svg>
  );
}
